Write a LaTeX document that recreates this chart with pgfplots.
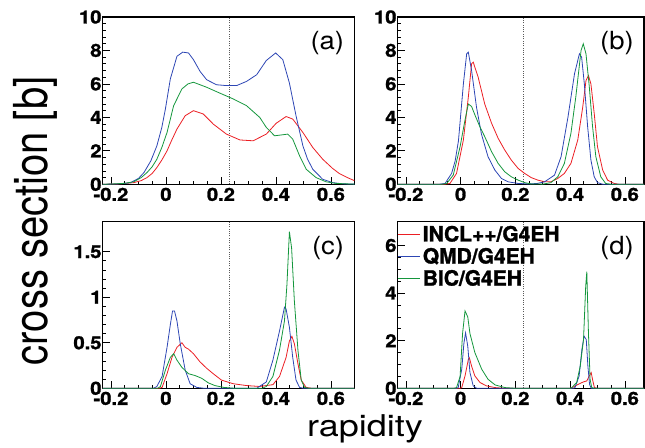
\documentclass[border=0pt]{standalone}
\usepackage{pgfplots}
\pgfplotsset{compat=1.18}
\usepackage{fontspec}
\usepackage{graphicx}
\setmainfont{TeX Gyre Heros}
\newfontfamily\tickfont{texgyreheros-bold}[Extension=.otf, FakeStretch=1.12, FakeBold=1.5]
\newfontfamily\legfont{texgyreheros-bold}[Extension=.otf, FakeBold=1.5]
\newfontfamily\panelfont{texgyreheros-regular}[Extension=.otf, FakeStretch=1.1]
\newcommand{\tl}[1]{\mbox{\tickfont\fontsize{18}{18}\selectfont #1}}
\definecolor{cred}{RGB}{235,30,35}
\definecolor{cblue}{RGB}{45,70,180}
\definecolor{cgreen}{RGB}{20,150,60}

\pgfplotsset{
 rootstyle/.style={
  scale only axis,
  xmin=-0.23,
  ymin=0,
  axis line style={line width=1.4pt},
  tick pos=left,
  tick align=inside,
  major tick length=7pt,
  minor tick length=3.5pt,
  tick style={black, line width=0.7pt},
  xtick={-0.2,0,0.2,0.4,0.6},
  xticklabels={\tl{-0.2},\tl{0},\tl{0.2},\tl{0.4},\tl{0.6}},
  minor x tick num=3,
  tick label style={font=\tickfont\fontsize{18}{18}\selectfont},
  yticklabel style={inner xsep=1pt},
  every axis plot/.append style={line width=0.8pt},
 },
 dotline/.style={black!65, dash pattern=on 1pt off 1.3pt, line width=0.8pt, forget plot},
}
\newcommand{\plabel}[1]{\node[anchor=north east, inner sep=0pt, xshift=-10pt, yshift=-14pt, font=\panelfont\fontsize{25}{25}\selectfont] at (rel axis cs:1,1) {#1};}

\begin{document}
\begin{tikzpicture}
% ---------------- (a)
\begin{axis}[rootstyle, at={(102.7pt,262.7pt)}, anchor=south west,
  width=251.6pt, height=167.3pt, xmax=0.685, ymax=10,
  ytick={0,2,4,6,8,10}, yticklabels={\tl{0},\tl{2},\tl{4},\tl{6},\tl{8},\tl{10}}, minor y tick num=4]
\addplot[dotline] coordinates {(0.23,0) (0.23,10)};
\addplot[cred] coordinates {(-0.23,0) (-0.18,0.02) (-0.15,0.05) (-0.117,0.1) (-0.09,0.22) (-0.069,0.4) (-0.05,0.65) (-0.033,1.0) (-0.015,1.45) (0.004,2.0) (0.02,2.6) (0.04,3.3) (0.07,4.1) (0.1,4.4) (0.136,4.2) (0.172,3.6) (0.22,3.0) (0.269,2.65) (0.317,2.6) (0.365,3.0) (0.401,3.65) (0.437,4.05) (0.461,3.9) (0.498,3.1) (0.534,2.2) (0.57,1.5) (0.606,0.95) (0.63,0.65) (0.66,0.4) (0.685,0.22)};
\addplot[cblue] coordinates {(-0.23,0) (-0.18,0.02) (-0.15,0.05) (-0.129,0.1) (-0.1,0.35) (-0.08,0.7) (-0.055,1.4) (-0.033,2.3) (-0.015,3.4) (-0.002,4.5) (0.016,6.3) (0.04,7.65) (0.061,7.9) (0.082,7.85) (0.1,7.45) (0.124,6.75) (0.148,6.25) (0.184,5.95) (0.22,5.9) (0.257,5.9) (0.293,6.15) (0.33,6.55) (0.365,7.4) (0.399,7.85) (0.425,7.45) (0.449,6.05) (0.473,4.1) (0.498,2.3) (0.515,1.5) (0.534,0.9) (0.57,0.3) (0.606,0.1) (0.64,0.03) (0.685,0.01)};
\addplot[cgreen] coordinates {(-0.23,0) (-0.18,0.03) (-0.15,0.06) (-0.117,0.15) (-0.09,0.4) (-0.069,0.7) (-0.05,1.05) (-0.033,1.5) (-0.015,2.2) (0.004,3.1) (0.028,4.7) (0.058,5.7) (0.08,6.0) (0.1,6.1) (0.148,5.8) (0.196,5.45) (0.245,5.1) (0.293,4.7) (0.341,4.0) (0.365,3.4) (0.395,2.9) (0.42,2.95) (0.443,3.0) (0.461,2.7) (0.486,1.7) (0.51,0.9) (0.546,0.4) (0.582,0.15) (0.62,0.05) (0.685,0.01)};
\plabel{(a)}
\end{axis}
% ---------------- (b)
\begin{axis}[rootstyle, at={(397.7pt,262.7pt)}, anchor=south west,
  width=246.3pt, height=167.3pt, xmax=0.67, ymax=10,
  ytick={0,2,4,6,8,10}, yticklabels={\tl{0},\tl{2},\tl{4},\tl{6},\tl{8},\tl{10}}, minor y tick num=4]
\addplot[dotline] coordinates {(0.23,0) (0.23,10)};
\addplot[cred] coordinates {(-0.23,0) (-0.06,0) (-0.039,0.05) (-0.015,0.65) (0.01,2.65) (0.028,5.2) (0.04,7.2) (0.046,7.3) (0.064,6.4) (0.088,4.8) (0.113,3.65) (0.137,2.75) (0.161,2.05) (0.185,1.45) (0.21,0.95) (0.234,0.65) (0.258,0.4) (0.282,0.25) (0.307,0.15) (0.33,0.15) (0.355,0.35) (0.379,0.65) (0.403,1.25) (0.428,2.65) (0.446,4.6) (0.458,6.2) (0.467,6.5) (0.476,6.0) (0.488,4.25) (0.5,2.25) (0.519,0.85) (0.537,0.25) (0.561,0.05) (0.58,0) (0.67,0)};
\addplot[cblue] coordinates {(-0.23,0) (-0.08,0) (-0.057,0.05) (-0.033,0.65) (-0.02,1.4) (-0.008,2.6) (0.01,6.0) (0.022,7.8) (0.028,7.9) (0.04,6.8) (0.058,4.6) (0.076,3.0) (0.1,1.65) (0.125,0.85) (0.149,0.35) (0.173,0.15) (0.21,0.05) (0.25,0.02) (0.28,0.05) (0.307,0.15) (0.343,0.55) (0.367,1.65) (0.392,4.0) (0.416,6.6) (0.434,7.8) (0.442,7.6) (0.452,6.0) (0.464,3.45) (0.476,1.45) (0.488,0.45) (0.5,0.1) (0.52,0) (0.67,0)};
\addplot[cgreen] coordinates {(-0.23,0) (-0.07,0) (-0.051,0.05) (-0.027,0.55) (-0.002,2.25) (0.016,3.85) (0.028,4.8) (0.04,4.65) (0.052,4.15) (0.07,3.45) (0.088,2.85) (0.113,1.95) (0.137,1.25) (0.161,0.75) (0.185,0.45) (0.21,0.25) (0.234,0.1) (0.258,0.02) (0.3,0.01) (0.33,0.1) (0.355,0.45) (0.379,1.25) (0.403,3.05) (0.421,5.25) (0.44,8.0) (0.448,8.4) (0.458,7.8) (0.47,5.85) (0.482,3.45) (0.494,1.65) (0.512,0.45) (0.53,0.05) (0.55,0) (0.67,0)};
\plabel{(b)}
\end{axis}
% ---------------- (c)
\begin{axis}[rootstyle, at={(102.7pt,58.7pt)}, anchor=south west,
  width=251.6pt, height=166.6pt, xmax=0.685, ymax=1.83,
  ytick={0,0.5,1,1.5}, yticklabels={\tl{0},\tl{0.5},\tl{1},\tl{1.5}}, minor y tick num=4]
\addplot[dotline] coordinates {(0.23,0) (0.23,1.83)};
\addplot[cred] coordinates {(-0.23,0) (-0.025,0) (-0.014,0.01) (0.004,0.16) (0.022,0.34) (0.04,0.45) (0.058,0.5) (0.07,0.45) (0.082,0.43) (0.1,0.38) (0.124,0.29) (0.148,0.22) (0.172,0.16) (0.202,0.09) (0.245,0.05) (0.293,0.03) (0.34,0.02) (0.389,0.04) (0.413,0.13) (0.437,0.34) (0.449,0.52) (0.458,0.57) (0.467,0.49) (0.48,0.27) (0.492,0.09) (0.51,0.01) (0.53,0) (0.685,0)};
\addplot[cblue] coordinates {(-0.23,0) (-0.045,0) (-0.033,0.02) (-0.014,0.13) (0.004,0.45) (0.016,0.7) (0.024,0.85) (0.031,0.85) (0.04,0.74) (0.052,0.49) (0.07,0.2) (0.088,0.05) (0.112,0.01) (0.14,0) (0.33,0) (0.34,0.02) (0.365,0.07) (0.389,0.31) (0.413,0.63) (0.431,0.89) (0.437,0.87) (0.449,0.67) (0.461,0.34) (0.473,0.09) (0.486,0.01) (0.5,0) (0.685,0)};
\addplot[cgreen] coordinates {(-0.23,0) (-0.03,0) (-0.02,0.02) (-0.002,0.2) (0.016,0.34) (0.028,0.38) (0.04,0.31) (0.058,0.23) (0.082,0.16) (0.106,0.14) (0.13,0.11) (0.154,0.06) (0.178,0.03) (0.21,0.01) (0.25,0) (0.35,0) (0.365,0.02) (0.389,0.13) (0.413,0.42) (0.431,0.74) (0.44,1.14) (0.449,1.72) (0.457,1.54) (0.467,0.96) (0.48,0.42) (0.492,0.09) (0.504,0.01) (0.52,0) (0.685,0)};
\plabel{(c)}
\end{axis}
% ---------------- (d)
\begin{axis}[rootstyle, at={(397.7pt,58.7pt)}, anchor=south west,
  width=246.3pt, height=166.6pt, xmax=0.67, ymax=7,
  ytick={0,2,4,6}, yticklabels={\tl{0},\tl{2},\tl{4},\tl{6}}, minor y tick num=3,
  legend style={at={(0,1)}, anchor=north west, draw=none, fill=none,
    font=\legfont\fontsize{21}{21}\selectfont, inner xsep=0pt, inner ysep=3pt,
    row sep=3pt, nodes={inner xsep=2pt, inner ysep=1pt}},
  legend cell align=left,
  legend image code/.code={\draw[#1, line width=0.9pt] (-1pt,0pt) -- (21pt,0pt);}]
\addplot[dotline] coordinates {(0.23,0) (0.23,7)};
\addplot[cred] coordinates {(-0.23,0) (-0.002,0) (0.004,0.03) (0.016,0.52) (0.028,1.21) (0.032,1.28) (0.04,0.93) (0.052,0.52) (0.071,0.24) (0.095,0.1) (0.126,0.03) (0.16,0) (0.40,0) (0.406,0.02) (0.43,0.17) (0.449,0.27) (0.461,0.31) (0.47,0.52) (0.477,0.66) (0.483,0.31) (0.489,0.03) (0.5,0) (0.67,0)};
\addlegendentry{INCL++/G4EH}
\addplot[cblue] coordinates {(-0.23,0) (-0.015,0) (-0.009,0.03) (0.004,0.8) (0.012,1.9) (0.018,2.33) (0.026,1.77) (0.034,0.66) (0.046,0.1) (0.059,0) (0.41,0) (0.418,0.03) (0.433,0.52) (0.443,1.63) (0.451,2.19) (0.459,2.05) (0.465,0.93) (0.471,0.17) (0.477,0) (0.67,0)};
\addlegendentry{QMD/G4EH}
\addplot[cgreen] coordinates {(-0.23,0) (-0.025,0) (-0.015,0.03) (-0.002,0.5) (0.007,2.3) (0.016,3.25) (0.026,3.0) (0.034,2.3) (0.052,1.5) (0.077,0.8) (0.1,0.38) (0.126,0.14) (0.162,0.03) (0.2,0) (0.4,0) (0.406,0.03) (0.424,0.24) (0.437,0.93) (0.449,2.05) (0.457,4.3) (0.461,4.9) (0.467,2.33) (0.473,0.38) (0.479,0.03) (0.49,0) (0.67,0)};
\addlegendentry{BIC/G4EH}
\plabel{(d)}
\end{axis}
% axis titles
\node at (35pt,226pt) {\scalebox{1.17}[1]{\rotatebox{90}{\fontsize{40}{40}\selectfont cross section [b]}}};
\node[anchor=base] at (365pt,10.3pt) {\scalebox{1.2}[1]{\fontsize{30}{30}\selectfont rapidity}};
\pgfresetboundingbox
\path[use as bounding box] (0,0) rectangle (645pt,447pt);
\end{tikzpicture}
\end{document}
